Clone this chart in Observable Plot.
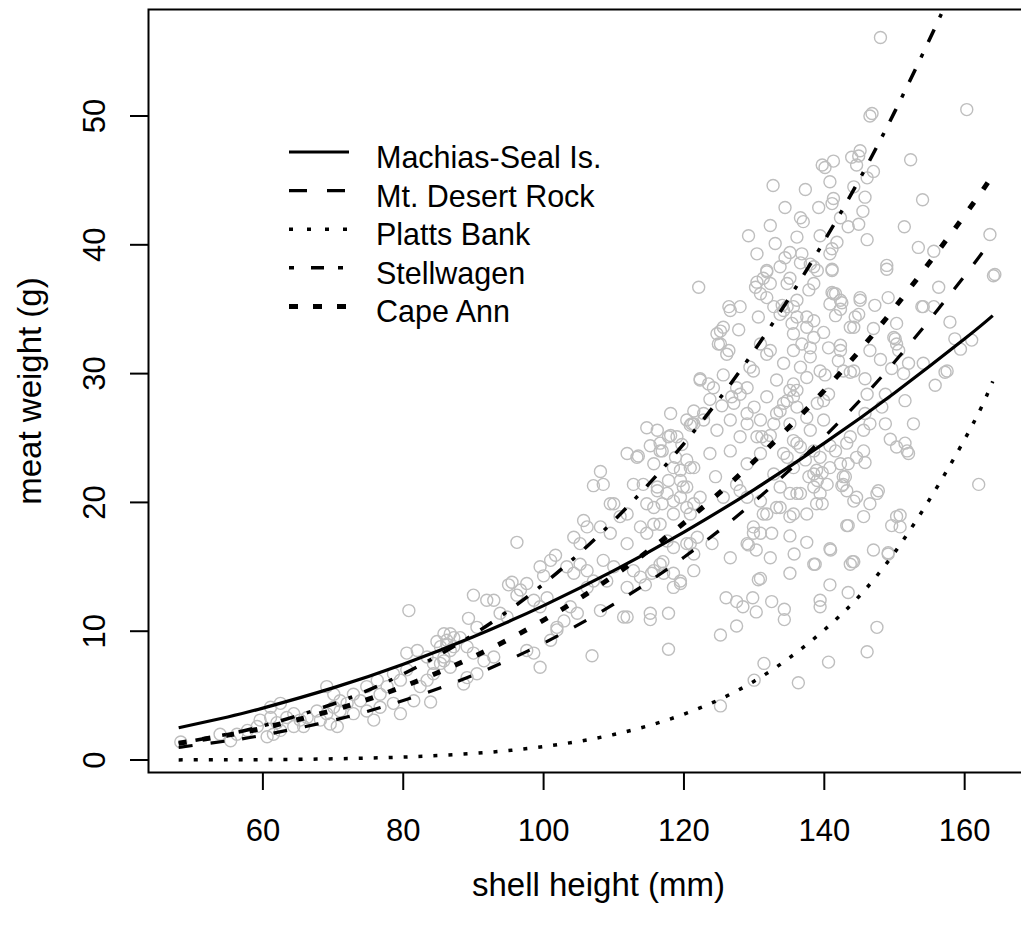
<!DOCTYPE html>
<html><head><meta charset="utf-8">
<script src="https://cdn.jsdelivr.net/npm/d3@7"></script>
<script src="https://cdn.jsdelivr.net/npm/@observablehq/plot@0.6"></script>
<style>
html,body{margin:0;padding:0;background:#fff;overflow:hidden;}
#wrap{position:relative;width:1021px;height:929px;overflow:hidden;}
#wrap svg{max-width:none !important;}
#legend{position:absolute;left:0;top:0;}
</style></head><body><div id="wrap"></div>
<script>
// ---- data ----
const xTicks = [60, 80, 100, 120, 140, 160];
const yTicks = [0, 10, 20, 30, 40, 50];
const seriesNames = ["Machias-Seal Is.", "Mt. Desert Rock", "Platts Bank", "Stellwagen", "Cape Ann"];
const shellGrid = [48, 55, 60, 70, 80, 90, 100, 110, 120, 130, 140, 150, 160, 164];
const machiasSeal = [2.5, 3.34, 4.03, 5.6, 7.44, 9.57, 11.99, 14.7, 17.7, 21.0, 24.6, 28.5, 32.7, 34.5];
const mtDesertRock = [0.98, 1.49, 1.93, 3.08, 4.62, 6.59, 9.07, 12.1, 15.74, 20.05, 25.09, 30.9, 37.6, 40.5];
const plattsBank = [0.01, 0.02, 0.03, 0.09, 0.23, 0.51, 1.04, 1.98, 3.56, 6.12, 10.1, 16.1, 24.9, 29.4];
const stellwagen = [1.29, 2.0, 2.65, 4.35, 6.68, 9.75, 13.67, 18.58, 24.57, 31.77, 40.31, 50.3, 61.9, 67.0];
const capeAnn = [1.3, 1.93, 2.48, 3.87, 5.7, 8.01, 10.86, 14.31, 18.4, 23.2, 28.7, 35.1, 42.3, 45.4];

// observations: [shell height (mm), meat weight (g)]
const observations = [
[48.3,1.4],[53.9,2.0],[55.4,1.5],[56.3,2.0],[57.8,2.3],[59.2,2.6],[60.6,1.8],[61.5,2.0],[62.5,2.3],[59.6,3.1],[61.1,3.3],[62.0,2.9],[63.4,3.3],[64.4,3.6],[65.3,3.1],[66.3,3.3],[64.4,2.6],[65.8,2.6],[67.7,3.8],[69.1,3.6],[70.1,4.1],[71.0,3.8],[72.0,4.4],[68.2,3.1],[69.6,2.8],[70.6,2.6],[61.1,4.1],[62.5,4.4],[69.1,5.7],[70.1,5.1],[71.0,4.6],[72.9,5.1],[73.9,4.6],[74.8,5.7],[76.3,6.2],[76.7,5.1],[72.9,3.6],[74.8,3.8],[77.7,5.7],[78.6,6.7],[79.6,6.2],[80.5,7.0],[76.7,4.1],[78.6,4.4],[79.6,3.6],[81.5,4.6],[82.4,5.7],[83.4,6.2],[84.3,6.7],[80.5,8.3],[82.0,8.5],[83.4,8.0],[85.3,8.8],[86.2,9.3],[87.2,9.5],[84.3,7.5],[85.8,7.7],[83.9,4.5],[84.8,9.2],[85.8,9.8],[86.7,8.5],[75.8,3.1],[80.8,11.6],
[121.1,26.1],[118.1,25.2],[115.2,24.4],[113.5,23.6],[116.6,24.0],[115.7,23.0],[118.5,22.7],[119.5,22.5],[120.4,23.3],[121.4,22.7],[108.1,22.4],[107.1,21.3],[108.5,21.4],[112.8,21.4],[116.2,21.2],[117.6,20.7],[114.7,19.9],[115.7,19.6],[119.5,20.4],[120.4,21.2],[121.4,19.9],[120.9,19.1],[118.5,19.1],[110.0,19.9],[110.9,18.9],[111.9,19.1],[105.7,18.6],[106.2,18.1],[108.1,18.1],[109.5,17.6],[113.8,18.1],[114.7,17.6],[115.7,18.3],[116.6,18.3],[117.6,17.0],[118.5,16.5],[120.4,16.8],[121.9,17.3],[121.4,16.0],[111.9,16.8],[104.3,17.3],[105.2,16.8],[101.7,15.9],[101.0,15.5],[99.5,15.0],[100.0,14.3],[103.3,15.0],[104.3,14.5],[105.2,15.2],[106.2,14.7],[108.5,15.5],[110.0,15.0],[109.0,13.9],[107.1,13.9],[106.2,13.4],[111.9,13.4],[113.8,14.2],[112.8,14.7],[115.7,14.7],[116.6,15.2],[117.1,14.5],[118.5,14.5],[119.5,13.9],[118.5,13.4],[115.2,11.4],[117.8,11.4],[111.9,11.1],[108.1,11.6],[106.9,8.1],[117.8,8.6],[101.9,10.3],[102.9,10.8],[103.8,11.9],[104.8,11.4],[98.6,12.4],[99.5,11.9],[100.5,12.6],[97.6,13.7],[96.7,13.2],[96.2,12.8],[95.0,13.6],[95.5,13.8],[96.2,16.9],[90.0,12.8],[91.9,12.4],[92.9,12.4],[93.8,11.4],[94.8,11.1],[89.3,11.0],[90.5,10.3],[86.7,9.8],[88.1,9.5],[86.2,9.0],[87.2,8.8],[89.1,8.8],[90.0,8.3],[91.5,7.7],[92.9,8.0],[85.8,8.0],[85.3,7.5],[86.7,7.2],[90.5,6.7],[89.1,6.4],[88.6,5.9],[97.6,8.5],[98.6,8.3],[99.5,7.2],[101.0,9.3],[101.9,10.1],[111.4,11.1],[119.5,13.7],[121.4,14.7],
[115.2,10.9],[125.2,9.7],[126.0,12.6],[127.5,10.4],[127.5,12.3],[128.4,11.9],[129.8,12.6],[130.3,11.5],[130.6,14.0],[132.3,15.7],[131.4,7.5],[130.0,6.2],[125.2,4.2],[134.3,11.7],[134.3,10.9],[135.1,14.5],[135.7,16.0],[136.3,6.0],[138.7,15.2],[139.4,12.4],[139.4,11.9],[140.6,7.6],[140.8,13.6],[140.9,16.3],[143.4,13.0],[144.0,15.4],[146.1,8.4],[147.5,10.3],[149.1,16.0],[137.5,16.9],[126.6,15.7],[114.5,13.6],[115.4,14.5],[117.0,15.4],[120.9,16.8],[124.0,16.8],[129.2,16.7],[130.3,16.3],[132.5,12.3],
[164.1,37.6],[148.9,38.4],[148.9,38.1],[141.1,38.1],[141.3,36.2],[142.5,35.5],[141.6,34.5],[145.1,35.9],[144.9,34.6],[147.2,35.3],[149.1,35.9],[144.2,33.6],[147.0,33.5],[150.3,33.9],[150.1,32.7],[153.9,35.2],[156.3,36.7],[157.9,34.0],[158.6,32.7],[161.0,32.6],[159.4,31.9],[142.3,32.2],[142.0,31.0],[146.5,31.8],[148.0,31.1],[150.6,31.8],[149.6,30.4],[145.8,29.6],[152.0,30.8],[154.1,30.8],[157.2,30.1],[155.8,29.1],[140.1,29.9],[140.6,28.4],[139.9,27.9],[144.2,30.2],[146.1,28.4],[148.7,28.4],[151.5,27.9],[148.2,27.4],[145.8,26.9],[146.5,26.1],[148.7,26.1],[152.7,26.1],[149.4,24.9],[151.5,24.6],[152.0,23.8],[145.6,24.0],[145.8,23.1],[143.4,23.0],[142.7,22.0],[142.5,21.3],[139.7,22.3],[139.7,19.9],[140.8,24.4],[147.7,20.9],[146.5,19.9],[150.8,19.0],[149.6,18.2],[143.2,18.2],[162.0,21.4],[140.8,16.4],[144.2,15.4],[149.1,16.1],
[160.3,50.5],[146.8,50.2],[146.5,50.0],[152.3,46.6],[154.0,43.5],[151.4,41.4],[153.4,39.8],[163.6,40.8],[164.3,37.7],[155.6,39.5],[145.1,47.3],[144.9,46.9],[143.9,46.8],[141.3,46.5],[139.7,46.2],[140.1,46.0],[147.0,45.7],[144.6,46.2],[146.1,45.2],[140.8,44.9],[137.3,44.3],[132.7,44.6],[144.2,44.5],[145.8,43.7],[141.3,43.6],[141.1,43.2],[139.2,42.9],[134.4,42.9],[145.5,42.6],[144.9,41.6],[143.4,41.4],[146.1,40.4],[141.8,40.2],[142.3,42.1],[136.6,42.1],[137.0,41.8],[132.3,41.5],[129.2,40.7],[139.4,40.7],[136.1,40.6],[133.0,40.1],[130.4,39.3],[135.1,39.4],[134.4,39.0],[141.1,39.7],[138.5,38.3],[136.6,38.6],[131.8,38.0],[133.7,38.3],[148.0,56.1],[122.1,36.7],
[126.4,35.2],[126.6,34.9],[130.6,34.4],[125.2,33.3],[127.8,33.4],[124.9,32.3],[126.4,31.8],[122.3,29.6],[124.2,28.9],[125.6,29.9],[127.5,28.9],[129.4,30.5],[126.8,28.2],[127.1,27.7],[128.0,28.4],[123.7,28.0],[125.4,27.5],[122.8,26.4],[120.9,26.0],[119.7,24.5],[117.8,25.1],[116.9,24.0],[118.8,23.5],[120.9,22.7],[119.5,21.7],[119.9,21.2],[117.8,21.7],[116.2,20.9],[116.9,19.9],[118.5,20.1],[120.4,19.6],[122.3,20.4],[125.6,20.4],[127.5,21.4],[128.0,20.9],[124.5,22.0],[123.7,23.8],[126.6,24.0],[128.0,25.1],[124.7,25.6],[126.6,26.4],[129.0,26.1],[130.0,27.4],[130.9,26.4],[131.1,25.1],[131.8,28.2],[132.3,31.8],[134.2,30.8],[133.2,29.5],[135.1,28.7],[135.6,28.2],[136.1,28.7],[134.2,27.7],[136.1,27.4],[133.2,26.9],[135.1,26.1],[137.5,26.6],[139.0,27.7],[138.0,25.6],[139.9,26.4],[132.3,25.2],[130.9,23.8],[129.0,23.0],[134.2,23.8],[136.1,24.6],[137.3,23.3],[138.9,22.5],[141.6,24.0],[142.3,23.0],[143.0,22.0],[143.2,24.6],[143.7,25.1],[145.6,25.6],[144.6,23.5],[142.7,21.4],[143.2,20.9],[137.8,22.0],[136.6,20.7],[136.1,20.7],[138.9,19.9],[137.5,19.1],[135.1,18.9],[133.2,19.6],[131.3,19.1],[129.9,17.6],[132.5,17.6],[135.1,17.4],[129.0,16.8],[143.4,18.2],[144.6,20.4],[145.6,18.9],[140.4,21.4],[140.8,22.7],[140.8,35.4],[142.3,35.0],[141.1,36.3],[145.1,35.7],[144.4,34.4],[143.7,33.6],[142.3,31.8],[142.7,30.2],[143.7,30.1],[139.4,30.2],[139.9,33.2],[140.6,32.0],[137.5,33.6],[138.5,32.8],[136.1,34.4],[137.5,34.4],[138.5,34.1],[136.8,32.3],[138.0,32.0],[135.4,33.9],[135.6,33.1],[136.1,35.7],[134.0,35.3],[134.2,34.9],[134.7,35.2],[135.1,37.4],[134.7,37.0],[131.8,37.9],[131.3,37.4],[132.3,37.0],[130.9,36.2],[131.8,35.9],[130.4,37.1],[130.2,36.7],[137.8,36.5],[138.5,37.0],[136.8,39.3],[138.0,38.5],[139.0,38.0],[141.1,38.0],[140.8,39.3],[141.6,36.2],[142.3,35.7],
[155.6,35.2],[154.1,35.2],[157.5,30.2],[151.8,24.0],[150.3,24.3],[151.3,30.0],[149.9,32.8],[150.3,32.3],[147.5,20.7],[150.3,18.9],[150.8,18.1],[147.0,16.3],[143.7,15.2],[138.5,15.2],[130.9,14.1],[109.5,19.9],[111.9,23.8],[113.3,23.5],[114.2,21.4],[116.6,24.6],[119.0,25.1],[114.7,25.8],[116.2,25.6],[120.4,26.4],[121.4,26.1],[121.4,27.1],[122.8,26.9],[118.1,26.9],[122.3,29.5],[123.5,29.2],[125.2,32.3],[126.1,31.5],[124.7,33.1],[125.6,33.6],[128.0,35.2],[132.8,35.2],[133.7,34.6],[135.6,35.2],[130.9,32.3],[131.8,31.5],[129.9,30.2],[129.0,28.9],[135.6,31.8],[138.0,31.3],[136.6,30.5],[135.6,29.2],[137.5,29.7],[133.7,27.1],[134.7,27.9],[132.8,26.1],[129.0,26.9],[130.4,25.1],[131.8,24.8],[135.6,24.8],[136.6,24.3],[134.7,23.5],[135.6,22.7],[138.5,24.0],[139.4,23.5],[138.5,22.2],[139.0,21.7],[144.2,20.1],[132.8,22.2],[133.7,21.2],[135.1,20.7],[129.0,20.4],[130.9,20.1],[131.8,19.1],[129.9,18.1],[130.9,17.6],[133.7,19.6],[135.6,19.1],[138.5,21.2],[139.4,20.7]
];

// ---- styles per series ----
const seriesValues = [machiasSeal, mtDesertRock, plattsBank, stellwagen, capeAnn];
const plotDash = [null, "14 18", "4 11", "4 13 14 13", "8 16"];
const legendDash = [null, "18 20", "4 14", "5 17 13 14", "9 15"];
const lineWidth = [3.2, 3.2, 3.5, 3.5, 5];

const curveRows = seriesNames.map((name, k) => shellGrid.map((h, i) => ({series: name, h, w: seriesValues[k][i]})));

const font = "'Liberation Sans', Arial, Helvetica, sans-serif";

const chart = Plot.plot({
  width: 1060, height: 929,
  marginLeft: 148, marginRight: 6, marginTop: 9, marginBottom: 157,
  style: {fontFamily: font, fontSize: "32px", color: "#000", background: "#fff", overflow: "visible"},
  x: {domain: [43.7, 172.8]},
  y: {domain: [-0.97, 58.27]},
  marks: [
    Plot.dot(observations, {x: d => d[0], y: d => d[1], r: 6, stroke: "#bebebe", strokeWidth: 1.4}),
    ...curveRows.map((rows, k) => Plot.line(rows, {
      x: "h", y: "w", stroke: "#000", strokeWidth: lineWidth[k],
      strokeDasharray: plotDash[k] ?? undefined, strokeLinecap: "butt",
      curve: "natural", clip: true
    })),
    Plot.frame({stroke: "#000", strokeWidth: 2}),
    Plot.axisX({ticks: xTicks, tickSize: 18, tickPadding: 28, strokeWidth: 2, label: null, fontSize: 31}),
    Plot.axisY({ticks: yTicks, tickSize: 18, tickFormat: () => "", strokeWidth: 2, label: null}),
    Plot.text(yTicks, {y: d => d, text: d => String(d), frameAnchor: "left", dx: -53, rotate: -90, textAnchor: "middle", lineAnchor: "middle", fontSize: 31}),
    Plot.text(["shell height (mm)"], {frameAnchor: "bottom", dx: -3, dy: 113, textAnchor: "middle", lineAnchor: "middle", fontSize: 33}),
    Plot.text(["meat weight (g)"], {frameAnchor: "left", dx: -118, rotate: -90, textAnchor: "middle", lineAnchor: "middle", fontSize: 33})
  ]
});
const wrap = document.getElementById("wrap");
wrap.appendChild(chart);

// ---- legend overlay (inside plot area, top-left) ----
const leg = d3.select(wrap).append("svg").attr("id", "legend")
  .attr("width", 1021).attr("height", 929)
  .style("font-family", font).style("font-size", "30.5px");
const rowY = i => 152 + i * 38.6;
seriesNames.forEach((name, i) => {
  const g = leg.append("g");
  g.append("line").attr("x1", 289).attr("x2", 349).attr("y1", rowY(i)).attr("y2", rowY(i))
    .attr("stroke", "#000").attr("stroke-width", lineWidth[i])
    .attr("stroke-dasharray", legendDash[i]).attr("stroke-linecap", "butt");
  g.append("text").attr("x", 376).attr("y", rowY(i) + 5).attr("dy", "0.36em")
    .attr("fill", "#000").text(name);
});
</script></body></html>
